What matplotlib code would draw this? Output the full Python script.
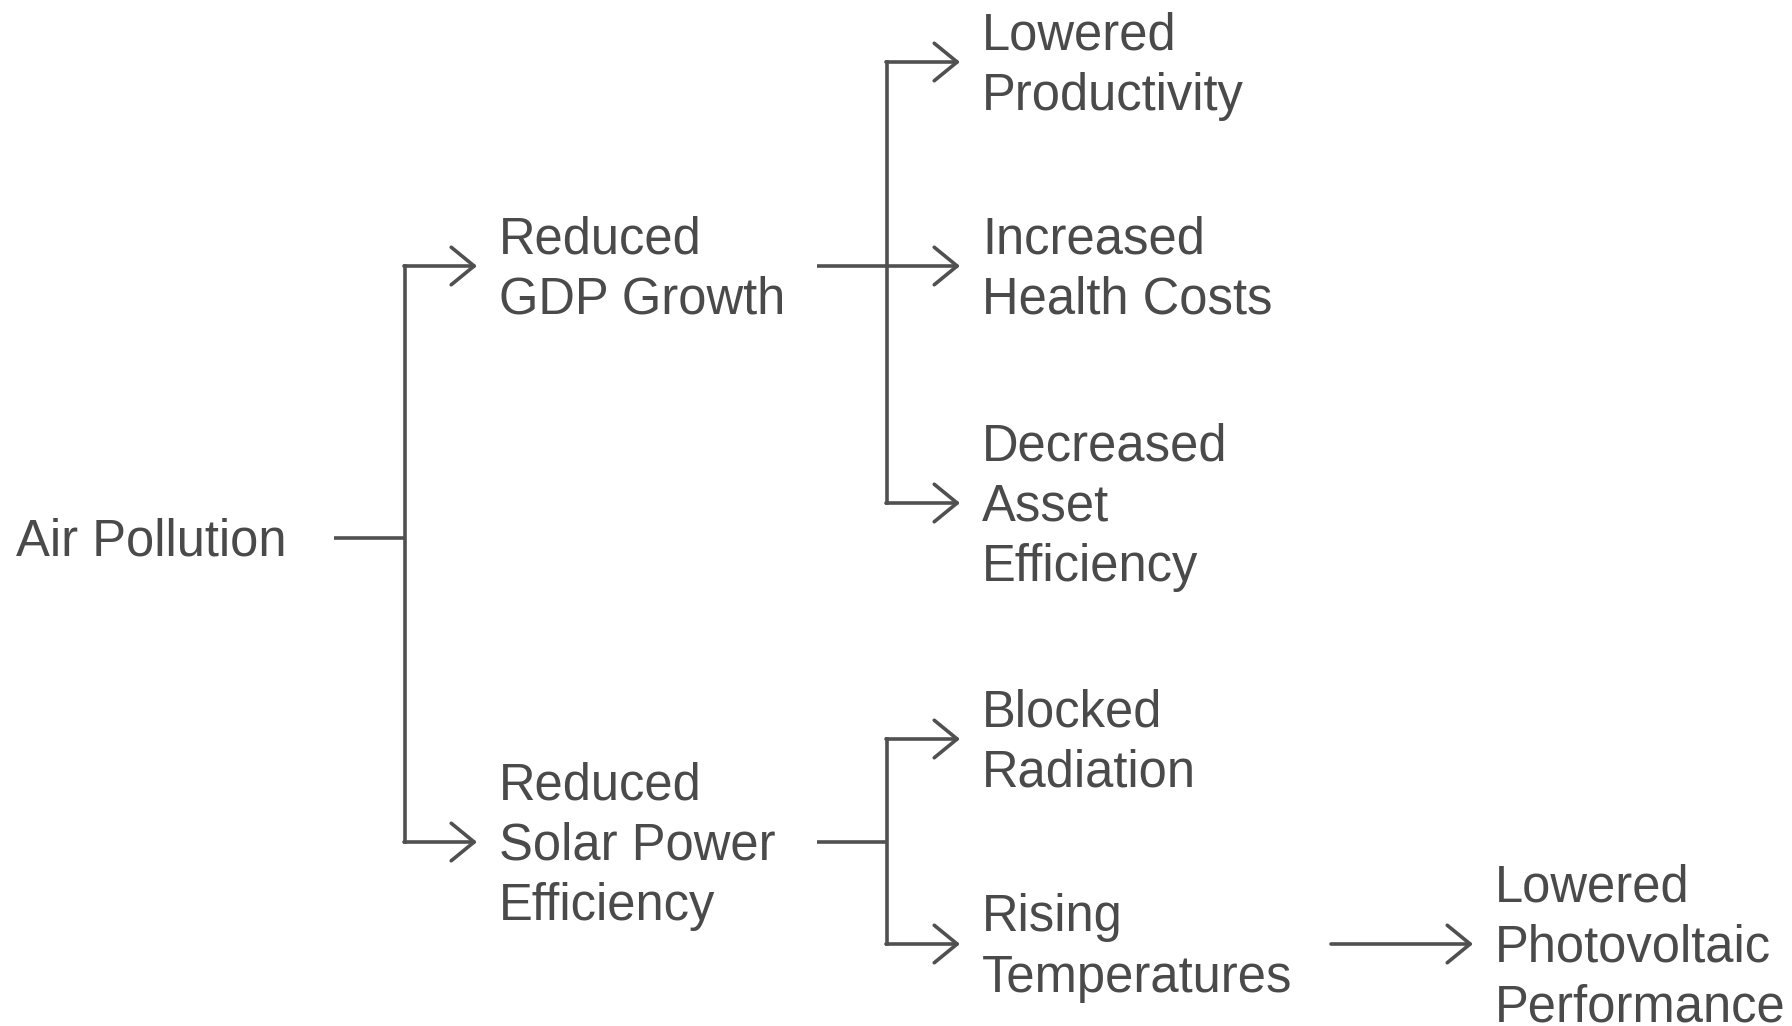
import matplotlib.pyplot as plt
from matplotlib.patches import FancyArrowPatch

plt.rcParams['font.family'] = ['Liberation Sans', 'DejaVu Sans']

# tree nodes: label, parent index
labels = [
    "Air Pollution",
    "Reduced\nGDP Growth",
    "Reduced\nSolar Power\nEfficiency",
    "Lowered\nProductivity",
    "Increased\nHealth Costs",
    "Decreased\nAsset\nEfficiency",
    "Blocked\nRadiation",
    "Rising\nTemperatures",
    "Lowered\nPhotovoltaic\nPerformance",
]
parents = [None, 0, 0, 1, 1, 1, 2, 2, 7]

# layout (pixels)
text_x = [16, 499, 499, 982, 982, 982, 982, 982, 1495]
text_y = [538, 266, 842, 62, 266, 503, 739, 944, 944]
line_start = {0: 334, 1: 817, 2: 817, 7: 1331}
bus_x = {0: 405, 1: 887, 2: 887}

COLOR = '#505050'
LW = 2.6

fig = plt.figure(figsize=(17.92, 10.26), dpi=100)
ax = fig.add_axes([0, 0, 1, 1])
ax.set_xlim(0, 1792)
ax.set_ylim(1026, 0)
ax.axis('off')

for i, lab in enumerate(labels):
    ax.text(text_x[i], text_y[i] + 4, lab, fontsize=36.5, color='#4a4a4a',
            ha='left', va='center', linespacing=1.30)

for p in line_start:
    kids = [i for i, q in enumerate(parents) if q == p]
    y0 = text_y[p]
    if p in bus_x:
        bx = bus_x[p]
        ax.plot([line_start[p], bx], [y0, y0], color=COLOR, lw=LW,
                solid_capstyle='butt')
        ys = [text_y[k] for k in kids]
        ax.plot([bx, bx], [min(ys), max(ys)], color=COLOR, lw=LW,
                solid_capstyle='projecting')
        for k in kids:
            arr = FancyArrowPatch((bx - 1, text_y[k]), (text_x[k] - 22, text_y[k]),
                                  arrowstyle='->,head_length=0.55,head_width=0.45',
                                  mutation_scale=30, color=COLOR, lw=LW,
                                  shrinkA=0, shrinkB=0)
            ax.add_patch(arr)
    else:
        for k in kids:
            arr = FancyArrowPatch((line_start[p], y0), (text_x[k] - 22, text_y[k]),
                                  arrowstyle='->,head_length=0.55,head_width=0.45',
                                  mutation_scale=30, color=COLOR, lw=LW,
                                  shrinkA=0, shrinkB=0)
            ax.add_patch(arr)

fig.savefig('out.png', dpi=100, facecolor='white')
